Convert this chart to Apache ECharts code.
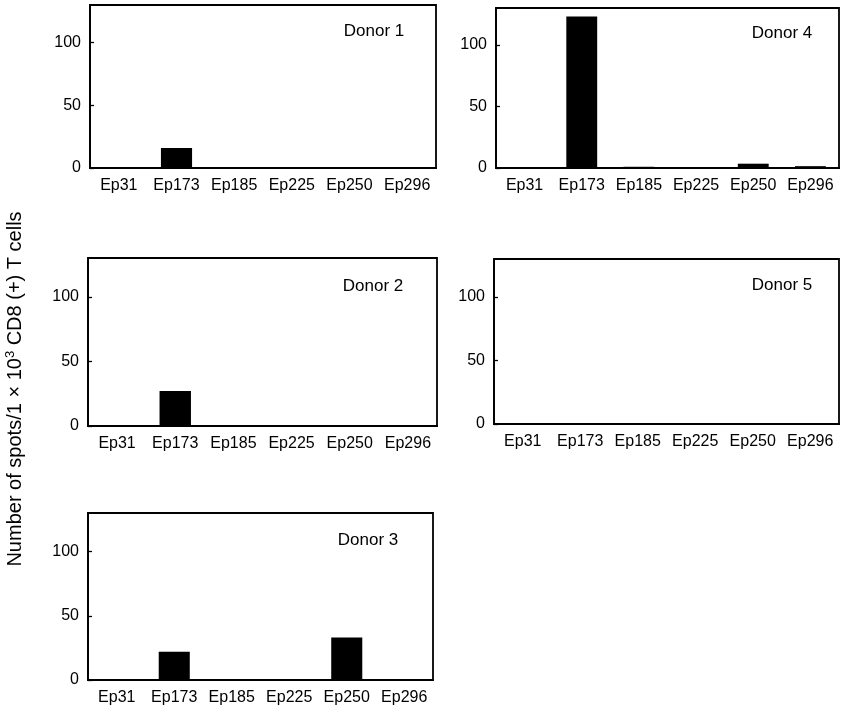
<!DOCTYPE html>
<html>
<head>
<meta charset="utf-8">
<script src="https://cdn.jsdelivr.net/npm/echarts@6/dist/echarts.min.js"></script>
<style>html,body{margin:0;padding:0;background:#fff}#c{width:842px;height:718px}</style>
</head>
<body>
<div id="c"></div>
<script>
const categories = ['Ep31', 'Ep173', 'Ep185', 'Ep225', 'Ep250', 'Ep296'];
const donor1 = [0, 16, 0, 0, 0, 0];
const donor2 = [0, 27, 0, 0.8, 0.5, 0.5];
const donor3 = [0.5, 22, 0, 0, 33, 0];
const donor4 = [0, 123, 1, 0.5, 3.5, 1.5];
const donor5 = [0, 0.8, 0.5, 0.5, 0.3, 0.8];
const panelNames = ['Donor 1', 'Donor 2', 'Donor 3', 'Donor 4', 'Donor 5'];
const panelData = [donor1, donor2, donor3, donor4, donor5];
const yTicks = [0, 50, 100];
const yMax = 130;

const FONT = '"Liberation Sans", Arial, Helvetica, sans-serif';
const grids = [
  {left: 90, top: 5, width: 346, height: 163},
  {left: 88, top: 258, width: 349, height: 168},
  {left: 88, top: 513, width: 345, height: 167},
  {left: 496, top: 8, width: 343, height: 160},
  {left: 494, top: 259, width: 345, height: 165}
];
const labelPos = [
  {x: 374, y: 31},
  {x: 373, y: 286},
  {x: 368, y: 540},
  {x: 782, y: 33},
  {x: 782, y: 285}
];

const option = {
  backgroundColor: '#fff',
  animation: false,
  grid: grids.map(g => Object.assign({show: true, borderColor: '#000', borderWidth: 1.8, backgroundColor: 'transparent'}, g)),
  xAxis: grids.map((g, i) => ({
    type: 'category', gridIndex: i, data: categories, boundaryGap: true,
    axisLine: {lineStyle: {color: '#000', width: 2.2}},
    axisTick: {inside: true, length: 4, lineStyle: {color: '#000', width: 1.3}},
    axisLabel: {color: '#000', fontFamily: FONT, fontSize: 16, margin: 10, interval: 0}
  })),
  yAxis: grids.map((g, i) => ({
    type: 'value', gridIndex: i, min: 0, max: yMax, interval: 50,
    splitLine: {show: false},
    axisLine: {show: true, lineStyle: {color: '#000', width: 1.8}},
    axisTick: {show: true, inside: true, length: 4, customValues: yTicks, lineStyle: {color: '#000', width: 1.3}},
    axisLabel: {color: '#000', fontFamily: FONT, fontSize: 16, margin: 9, customValues: yTicks}
  })),
  series: panelData.map((d, i) => ({
    type: 'bar', xAxisIndex: i, yAxisIndex: i, data: d, barWidth: '54%',
    itemStyle: {color: '#000'}
  })),
  graphic: panelNames.map((n, i) => ({
    type: 'text', x: labelPos[i].x, y: labelPos[i].y,
    style: {text: n, fill: '#000', font: '17px ' + FONT, textAlign: 'center', textVerticalAlign: 'middle'}
  })).concat([{
    type: 'text', x: 15, y: 389, rotation: Math.PI / 2,
    style: {
      text: '{a|Number of spots/1 × 10}{s|3}{a| CD8 (+) T cells}',
      textAlign: 'center', textVerticalAlign: 'middle',
      rich: {
        a: {fontFamily: FONT, fontSize: 20, fill: '#000', lineHeight: 23},
        s: {fontFamily: FONT, fontSize: 13, fill: '#000', verticalAlign: 'top', lineHeight: 23}
      }
    }
  }])
};
echarts.init(document.getElementById('c')).setOption(option);
</script>
</body>
</html>
